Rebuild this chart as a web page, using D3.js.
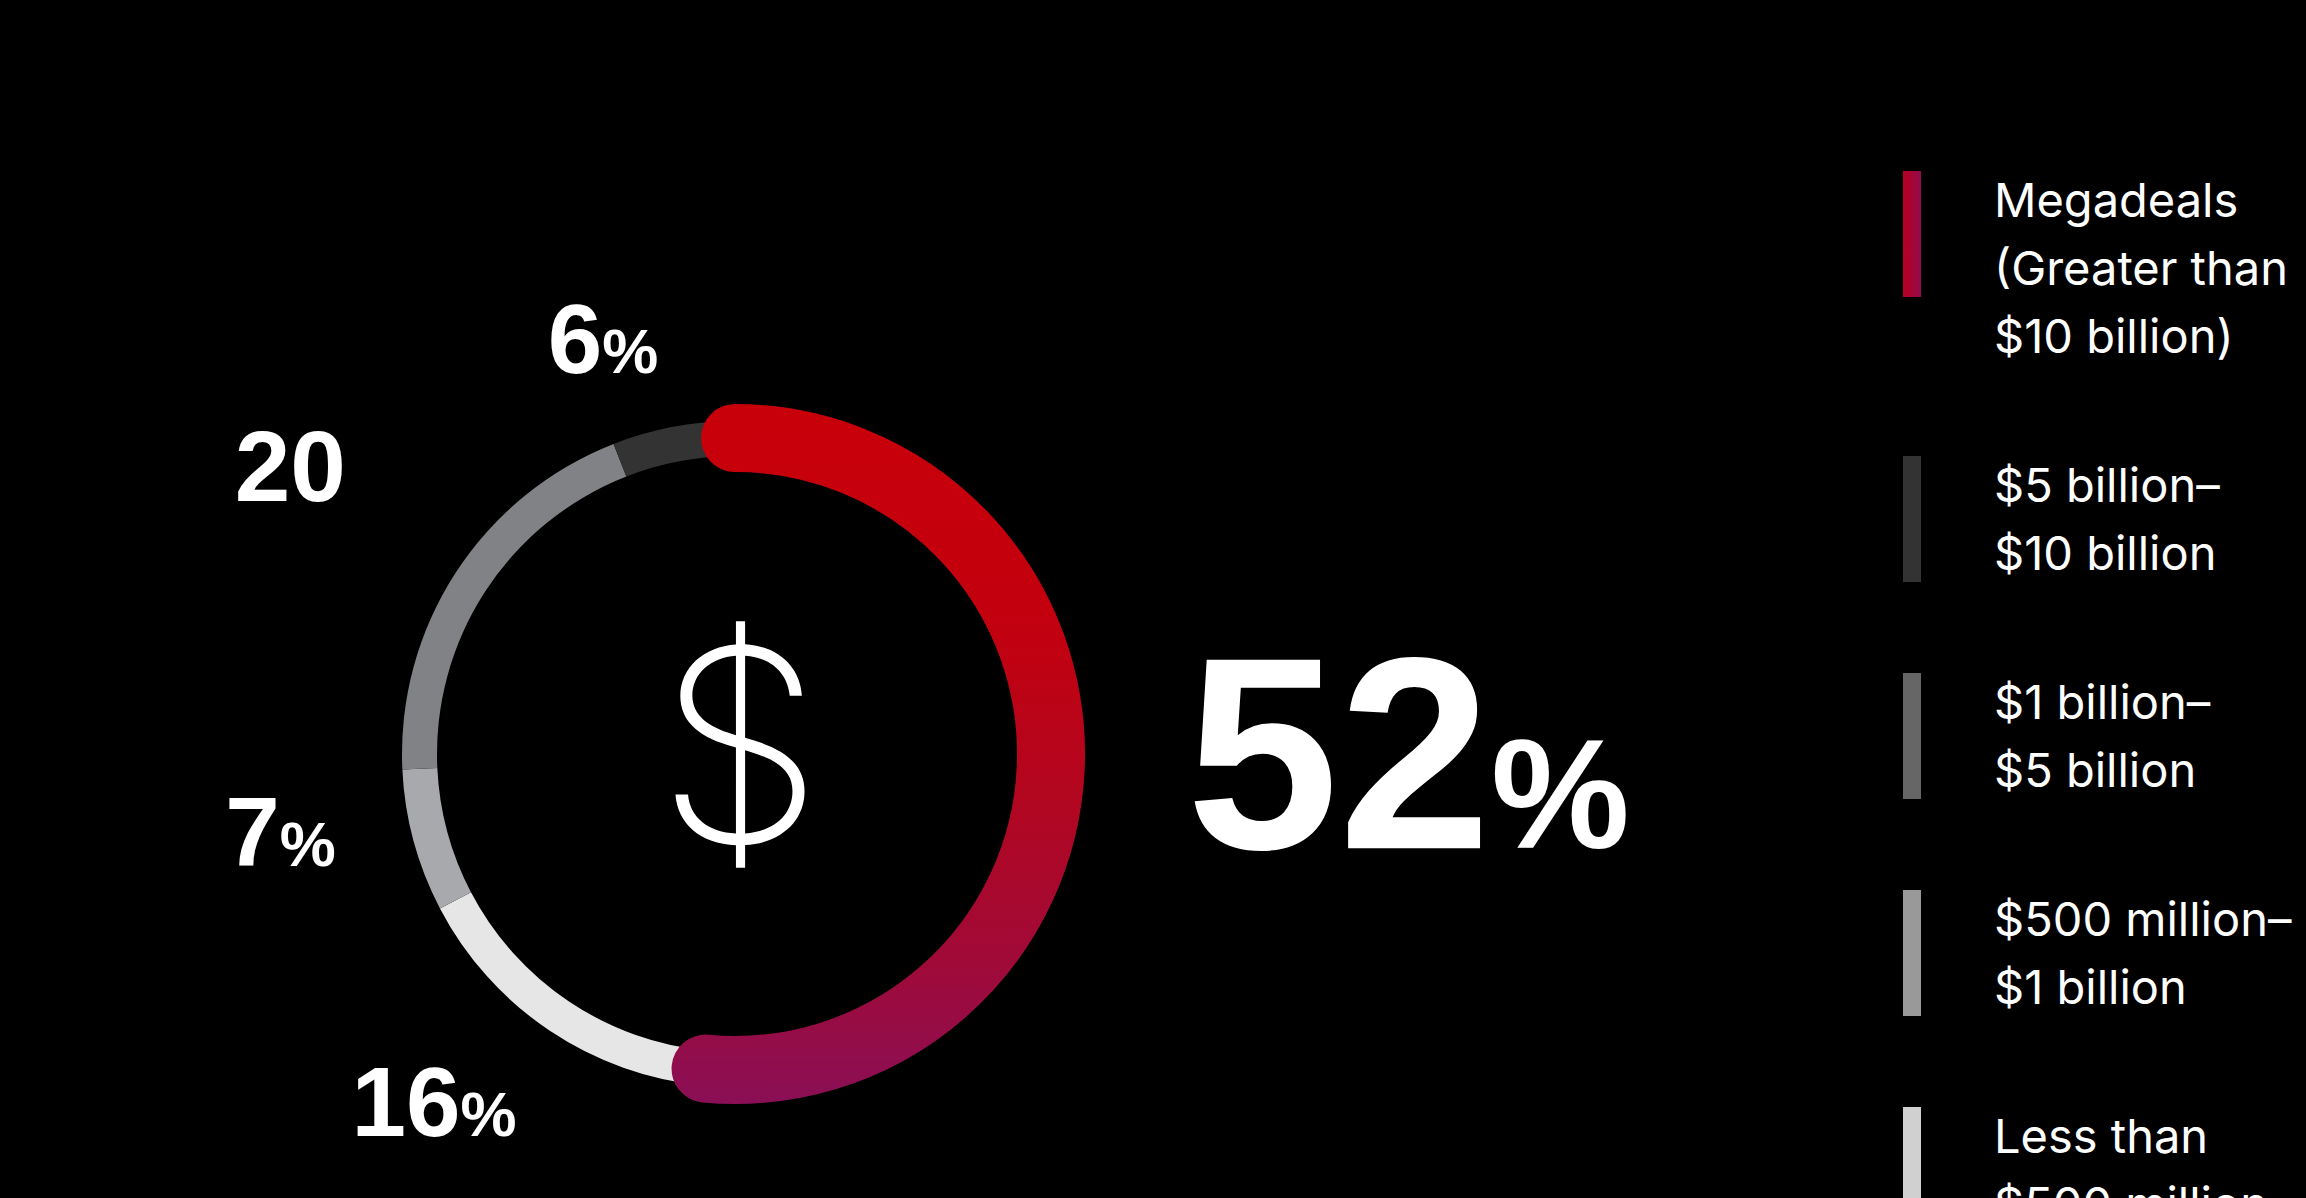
<!DOCTYPE html>
<html>
<head>
<meta charset="utf-8">
<script src="https://cdn.jsdelivr.net/npm/d3@7"></script>
<style>
html, body { margin:0; padding:0; background:#000; }
svg { display:block; }
</style>
</head>
<body>
<script>
var WIDTH = 2306, HEIGHT = 1198;

// share of deal value by deal size (ring order, clockwise from 12 o'clock)
var categories = ["Megadeals", "Less than $500 million", "$500 million–$1 billion", "$1 billion–$5 billion", "$5 billion–$10 billion"];
var values = [52, 16, 7, 20, 6];
var valueLabels = ["52", "16", "7", "20", "6"];
var pctSigns = ["%", "%", "%", "", "%"];

// legend, top to bottom
var legendLines = [
	["Megadeals", "(Greater than", "$10 billion)"],
	["$5 billion–", "$10 billion"],
	["$1 billion–", "$5 billion"],
	["$500 million–", "$1 billion"],
	["Less than", "$500 million"]
];

var ringColors = ["url(#redGrad)", "#e6e6e6", "#a7a9ac", "#808285", "#333333"];
var legendColors = ["url(#legendRed)", "#333333", "#666666", "#999999", "#d0d0d0"];

var CX = 735, CY = 754, R_MID = 316;
var NUM_FONT = "'Liberation Sans', Arial, sans-serif";
var TXT_FONT = "Inter, 'Liberation Sans', sans-serif";

// label placement relative to the slice mid-angle
var labelR = [673, 459, 461, 530, 437];
var labelShift = [-3.0, 7.1, 5.5, 0, -6.9];
var labelSize = [274, 98, 98, 100, 98];
var pctSize = [156, 63, 63, 63, 63];

var svg = d3.select("body").append("svg")
		.attr("width", WIDTH)
		.attr("height", HEIGHT)
		.style("background", "#000");

var defs = svg.append("defs");
// gradient in the ring group's own coordinates
var g1 = defs.append("linearGradient").attr("id", "redGrad")
		.attr("gradientUnits", "userSpaceOnUse")
		.attr("x1", 0).attr("y1", -R_MID - 34).attr("x2", 0).attr("y2", R_MID + 34);
[[0, "#c8000a"], [0.3, "#c3000e"], [0.55, "#b3061f"], [0.8, "#a00a38"], [1, "#8a0f56"]].forEach(function(s){
	g1.append("stop").attr("offset", s[0]).attr("stop-color", s[1]);
});
var g2 = defs.append("linearGradient").attr("id", "legendRed")
		.attr("x1", 0).attr("y1", 0).attr("x2", 1).attr("y2", 0);
[[0, "#b8001f"], [1, "#920b4c"]].forEach(function(s){
	g2.append("stop").attr("offset", s[0]).attr("stop-color", s[1]);
});

var pie = d3.pie().sort(null).value(function(d){ return d; });
var arcs = pie(values);

var ring = svg.append("g").attr("transform", "translate(" + CX + "," + CY + ")");

var greyArc = d3.arc().innerRadius(298).outerRadius(333);
ring.selectAll(".seg").data(arcs.slice(1))
	.enter().append("path")
	.classed("seg", true)
	.attr("d", greyArc)
	.attr("fill", function(d, i){ return ringColors[i + 1]; });

// the headline slice is drawn as a thick stroke with round caps
var red = arcs[0];
var p = d3.path();
p.arc(0, 0, R_MID, red.startAngle - Math.PI / 2, red.endAngle - Math.PI / 2);
ring.append("path")
	.attr("d", p.toString())
	.attr("fill", "none")
	.attr("stroke", ringColors[0])
	.attr("stroke-width", 68)
	.attr("stroke-linecap", "round");

// centre glyph
ring.append("text")
	.attr("x", 5).attr("y", 88)
	.attr("text-anchor", "middle")
	.style("font-family", TXT_FONT)
	.style("font-weight", 200)
	.style("font-size", "268px")
	.attr("fill", "#fff")
	.text("$");

// value labels
var labels = ring.selectAll(".lab").data(arcs)
	.enter().append("text")
	.classed("lab", true)
	.attr("text-anchor", "middle")
	.attr("fill", "#fff")
	.style("font-family", NUM_FONT)
	.style("font-weight", 700)
	.attr("transform", function(d, i){
		var a = (d.startAngle + d.endAngle) / 2 + labelShift[i] * Math.PI / 180;
		var x = Math.sin(a) * labelR[i];
		var y = -Math.cos(a) * labelR[i] + labelSize[i] * 0.358;
		return "translate(" + x + "," + y + ")";
	});
labels.append("tspan")
	.style("font-size", function(d, i){ return labelSize[i] + "px"; })
	.text(function(d, i){ return valueLabels[i]; });
labels.append("tspan")
	.style("font-size", function(d, i){ return pctSize[i] + "px"; })
	.text(function(d, i){ return pctSigns[i]; });

// legend
var LINE_H = 68;
var legend = svg.append("g").attr("transform", "translate(1903,0)");
var y0 = 217;
legendLines.forEach(function(lines, i){
	var item = legend.append("g").attr("transform", "translate(0," + y0 + ")");
	item.append("rect")
		.attr("x", 0).attr("y", -46)
		.attr("width", 18).attr("height", 126)
		.attr("fill", legendColors[i]);
	item.append("text")
		.attr("fill", "#fff")
		.style("font-family", TXT_FONT)
		.style("font-size", "47px")
		.selectAll("tspan").data(lines)
		.enter().append("tspan")
		.attr("x", 91)
		.attr("y", function(d, j){ return j * LINE_H; })
		.text(function(d){ return d; });
	y0 += lines.length * LINE_H + 81;
});
</script>
</body>
</html>
